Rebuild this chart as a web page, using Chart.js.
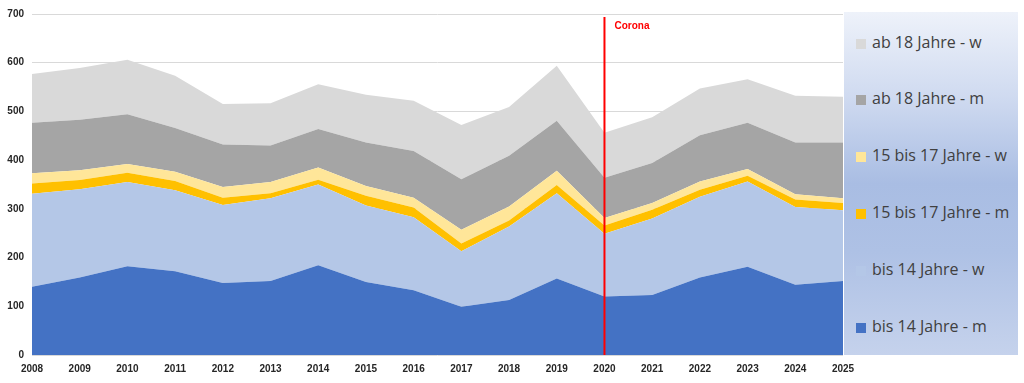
<!DOCTYPE html>
<html>
<head>
<meta charset="utf-8">
<script src="https://cdn.jsdelivr.net/npm/chart.js@4/dist/chart.umd.min.js"></script>
<style>
  html, body { margin: 0; padding: 0; background: #ffffff; }
  #wrap { position: relative; width: 1024px; height: 383px; overflow: hidden; }
  #c { position: absolute; left: 0; top: 0; }
  #legend {
    position: absolute; left: 844px; top: 12px; width: 174px; height: 343px;
    background: linear-gradient(to bottom, #eef2fa 0%, #cfdaf0 25%, #a9bde3 50%, #aec1e5 70%, #c5d2ec 100%);
    font-family: "Open Sans", "Liberation Sans", sans-serif; font-size: 16px; color: #404040;
  }
  .item { position: absolute; left: 12px; height: 20px; line-height: 20px; white-space: nowrap; transform: translateY(-50%); }
  .sw { display: inline-block; width: 10px; height: 10px; margin-right: 6px; vertical-align: -1px; }
</style>
</head>
<body>
<div id="wrap">
  <canvas id="c" width="1024" height="383"></canvas>
  <div id="legend"></div>
</div>
<script>
const years = ["2008","2009","2010","2011","2012","2013","2014","2015","2016","2017","2018","2019","2020","2021","2022","2023","2024","2025"];
const bis14m   = [140,159,182,172,148,152,184,150,133, 99,113,157,120,123,159,181,144,152];
const bis14w   = [191,181,173,166,160,170,166,157,150,114,151,175,129,157,166,175,160,145];
const j15bis17m = [21,19,19,19,15,10,10,20,20,16,12,17,17,18,14,12,15,15];
const j15bis17w = [21,20,18,19,22,23,25,20,20,28,29,29,15,14,17,14,11,10];
const ab18m    = [104,104,102,90,87,75,79,89,96,104,104,103,83,82,95,95,106,114];
const ab18w    = [100,106,112,107,83,87,92,98,103,111,100,113,92,94,96,89,96,94];
const yTicks = [0,100,200,300,400,500,600,700];
const markerYear = "2020";
const markerLabel = "Corona";

const seriesNames = ["bis 14 Jahre - m","bis 14 Jahre - w","15 bis 17 Jahre - m","15 bis 17 Jahre - w","ab 18 Jahre - m","ab 18 Jahre - w"];
const seriesData = [bis14m, bis14w, j15bis17m, j15bis17w, ab18m, ab18w];
const seriesColors = ["#4472c4","#b4c7e7","#ffc000","#ffe699","#a5a5a5","#d9d9d9"];

const datasets = seriesData.map((d, i) => ({
  label: seriesNames[i],
  data: d,
  backgroundColor: seriesColors[i],
  borderColor: seriesColors[i],
  borderWidth: 0,
  pointRadius: 0,
  tension: 0,
  fill: i === 0 ? 'origin' : '-1'
}));

const markerPlugin = {
  id: 'marker',
  afterDatasetsDraw(chart) {
    const ctx = chart.ctx;
    const x = chart.scales.x.getPixelForValue(years.indexOf(markerYear));
    const bottom = chart.chartArea.bottom;
    ctx.save();
    ctx.strokeStyle = '#ff0000';
    ctx.lineWidth = 2;
    ctx.beginPath();
    ctx.moveTo(x, 17);
    ctx.lineTo(x, bottom);
    ctx.stroke();
    ctx.fillStyle = '#ff0000';
    ctx.font = 'bold 10px "Liberation Sans", Arial, sans-serif';
    ctx.textBaseline = 'middle';
    ctx.textAlign = 'left';
    ctx.fillText(markerLabel, x + 10, 26);
    ctx.restore();
  }
};

new Chart(document.getElementById('c'), {
  type: 'line',
  data: { labels: years, datasets },
  plugins: [markerPlugin],
  options: {
    responsive: false,
    animation: false,
    layout: { padding: { left: 0, right: 181, top: 10, bottom: 0 } },
    plugins: { legend: { display: false }, tooltip: { enabled: false } },
    scales: {
      x: {
        offset: false,
        grid: { display: false, drawTicks: false },
        border: { display: false },
        ticks: {
          padding: 8, maxRotation: 0, autoSkip: false,
          color: '#262626',
          font: { family: '"Liberation Sans", Arial, sans-serif', size: 10, weight: 'bold' }
        },
        afterFit(s) { s.height = 28; }
      },
      y: {
        stacked: true,
        min: 0, max: 700,
        afterBuildTicks(s) { s.ticks = yTicks.map(v => ({ value: v })); },
        grid: { color: '#d9d9d9', lineWidth: 1, drawTicks: false },
        border: { display: false },
        ticks: {
          padding: 8,
          color: '#262626',
          font: { family: '"Liberation Sans", Arial, sans-serif', size: 10, weight: 'bold' }
        },
        afterFit(s) { s.width = 32; }
      }
    }
  }
});

const legend = document.getElementById('legend');
const rowY = [30, 86, 143, 200, 257, 314];
for (let k = 0; k < seriesNames.length; k++) {
  const i = seriesNames.length - 1 - k;
  const div = document.createElement('div');
  div.className = 'item';
  div.style.top = rowY[k] + 'px';
  const sw = document.createElement('span');
  sw.className = 'sw';
  sw.style.background = seriesColors[i];
  div.appendChild(sw);
  div.appendChild(document.createTextNode(seriesNames[i]));
  legend.appendChild(div);
}
</script>
</body>
</html>
